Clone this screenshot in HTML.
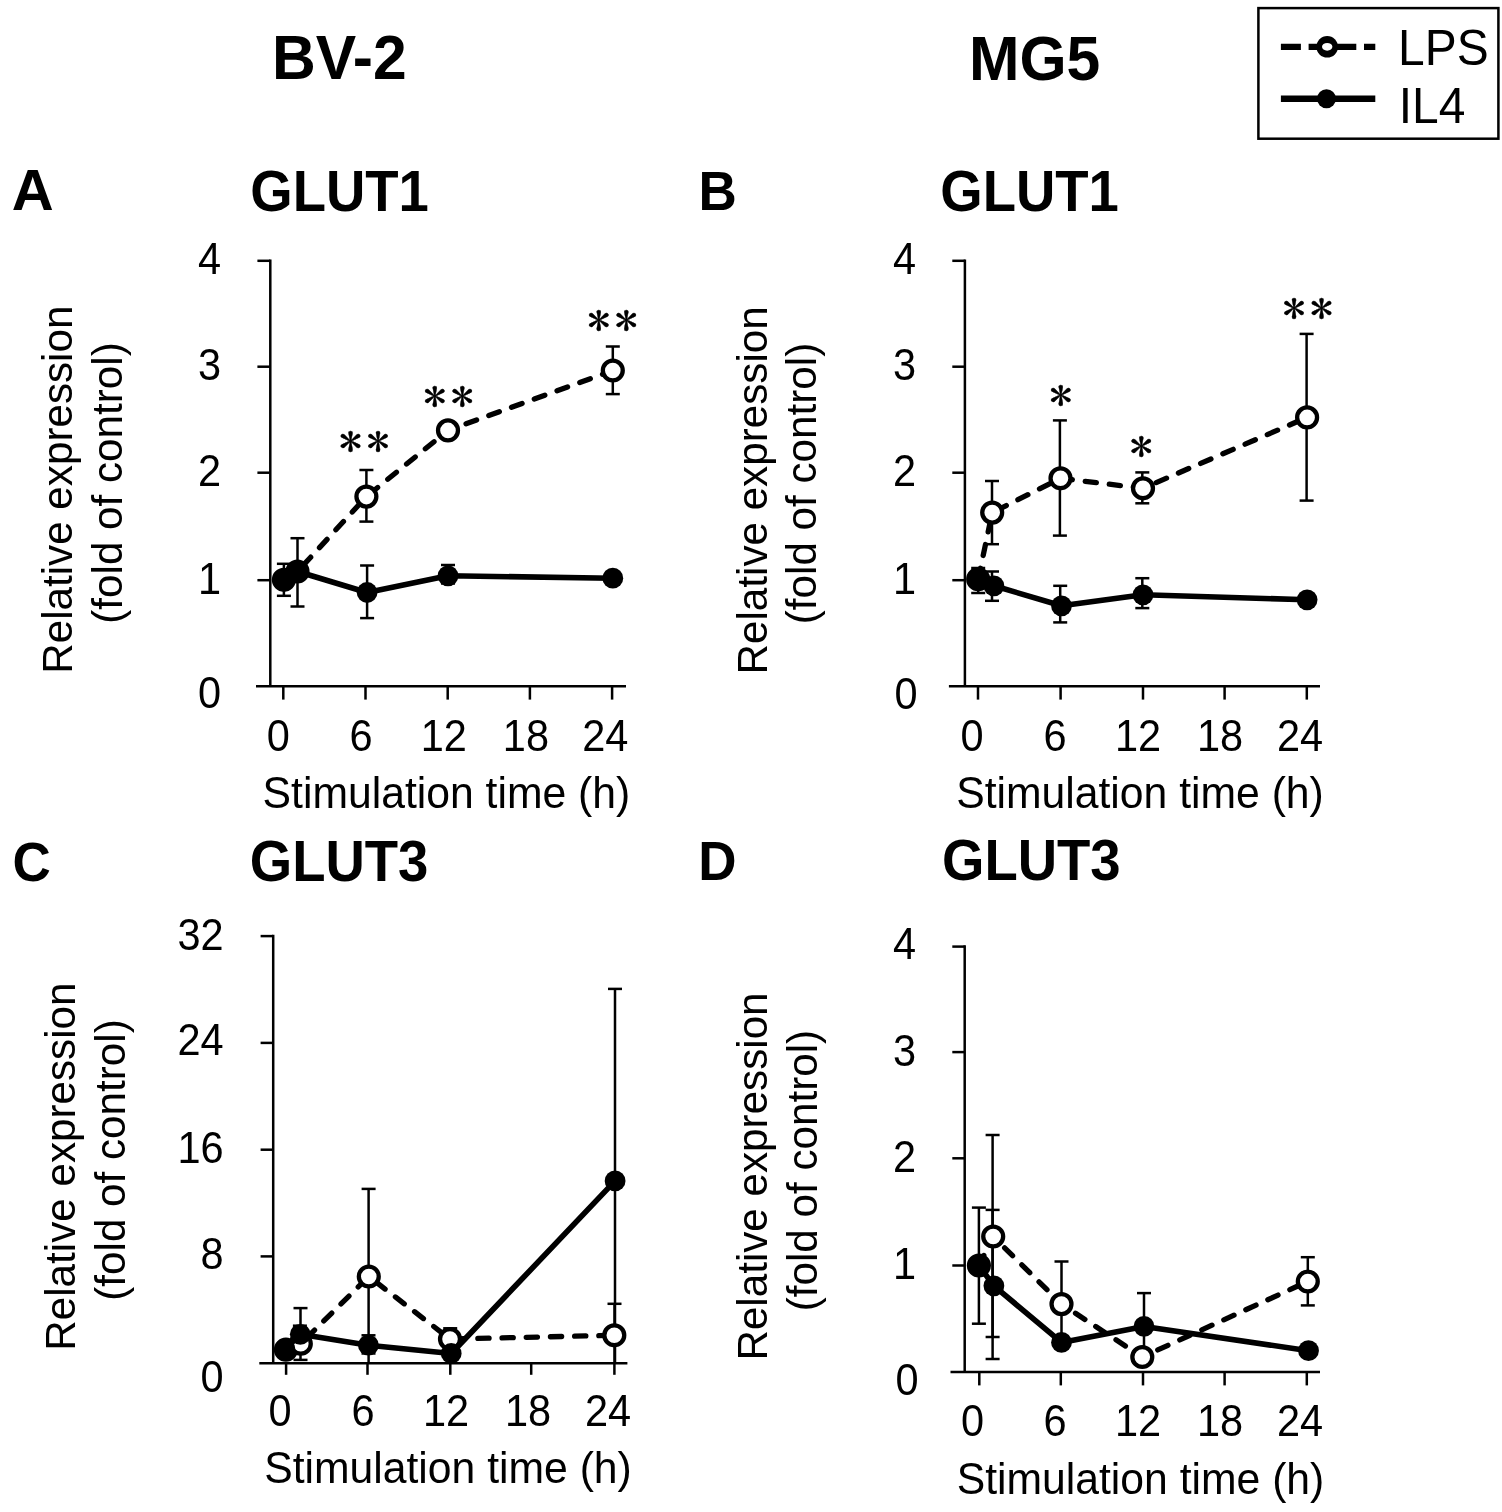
<!DOCTYPE html>
<html lang="en">
<head>
<meta charset="utf-8">
<title>GLUT1 and GLUT3 expression in BV-2 and MG5 cells</title>
<style>
html,body{margin:0;padding:0;background:#fff;}
body{width:1502px;height:1512px;overflow:hidden;}
svg{display:block;}
svg text{stroke:none;fill:#000;}
</style>
</head>
<body>
<svg width="1502" height="1512" viewBox="0 0 1502 1512" font-family='"Liberation Sans", sans-serif' fill="#000" stroke="#000">
<g class="headings">
<text transform="translate(271.9,79.4) scale(1.0,1.04)" font-size="60.6" font-weight="bold">BV-2</text>
<text transform="translate(969,79.6) scale(1.0,1.04)" font-size="60.6" font-weight="bold">MG5</text>
<text transform="translate(11.7,210) scale(1.085,1.06)" font-size="53.5" font-weight="bold">A</text>
<text transform="translate(698.4,210.1) scale(1.0,1.04)" font-size="53" font-weight="bold">B</text>
<text transform="translate(12.4,881.3) scale(1.0,1.04)" font-size="53" font-weight="bold">C</text>
<text transform="translate(698.3,880.4) scale(1.0,1.04)" font-size="53" font-weight="bold">D</text>
<text transform="translate(250.3,210.6) scale(1.0,1.04)" font-size="54.5" font-weight="bold">GLUT1</text>
<text transform="translate(940.3,210.6) scale(1.0,1.04)" font-size="54.5" font-weight="bold">GLUT1</text>
<text transform="translate(249.8,881.3) scale(1.0,1.04)" font-size="54.5" font-weight="bold">GLUT3</text>
<text transform="translate(942,880.4) scale(1.0,1.04)" font-size="54.5" font-weight="bold">GLUT3</text>
</g>
<g class="legend">
<rect x="1258.4" y="8.1" width="240" height="130.6" fill="#fff" stroke-width="2.5"/>
<line x1="1280.9" y1="46.8" x2="1375.3" y2="46.8" stroke-width="6.2" stroke-dasharray="20 7.7"/>
<circle cx="1327.2" cy="46.8" r="10.8" fill="#000" stroke="none"/>
<ellipse cx="1327.2" cy="46.8" rx="5.2" ry="3.9" fill="#fff" stroke="none"/>
<line x1="1280.9" y1="98.8" x2="1375.3" y2="98.8" stroke-width="6.6"/>
<circle cx="1326.5" cy="98.8" r="9.5" fill="#000" stroke="none"/>
<text transform="translate(1398.1,64.8) scale(1.0,1.04)" font-size="47.9">LPS</text>
<text transform="translate(1398.7,123) scale(1.0,1.04)" font-size="47.9">IL4</text>
</g>
<g class="panel" id="panel-A">
<g class="axes">
<line x1="270.3" y1="259.55" x2="270.3" y2="686.3" stroke-width="2.5"/>
<line x1="256" y1="686.3" x2="626" y2="686.3" stroke-width="2.5"/>
<line x1="257.4" y1="580.2" x2="270.3" y2="580.2" stroke-width="2.5"/>
<line x1="257.4" y1="472.7" x2="270.3" y2="472.7" stroke-width="2.5"/>
<line x1="257.4" y1="366.7" x2="270.3" y2="366.7" stroke-width="2.5"/>
<line x1="257.4" y1="260.8" x2="270.3" y2="260.8" stroke-width="2.5"/>
<line x1="283.3" y1="686.3" x2="283.3" y2="699.6" stroke-width="2.5"/>
<line x1="365.5" y1="686.3" x2="365.5" y2="699.6" stroke-width="2.5"/>
<line x1="447.7" y1="686.3" x2="447.7" y2="699.6" stroke-width="2.5"/>
<line x1="529.9" y1="686.3" x2="529.9" y2="699.6" stroke-width="2.5"/>
<line x1="612.1" y1="686.3" x2="612.1" y2="699.6" stroke-width="2.5"/>
</g>
<g class="ticklabels">
<text transform="translate(221,708) scale(1.0,1.05)" font-size="41.5" text-anchor="end">0</text>
<text transform="translate(221,593.7) scale(1.0,1.05)" font-size="41.5" text-anchor="end">1</text>
<text transform="translate(221,485.8) scale(1.0,1.05)" font-size="41.5" text-anchor="end">2</text>
<text transform="translate(221,380) scale(1.0,1.05)" font-size="41.5" text-anchor="end">3</text>
<text transform="translate(221,273.8) scale(1.0,1.05)" font-size="41.5" text-anchor="end">4</text>
<text transform="translate(278.2,750.8) scale(1.0,1.05)" font-size="41.5" text-anchor="middle">0</text>
<text transform="translate(361,750.8) scale(1.0,1.05)" font-size="41.5" text-anchor="middle">6</text>
<text transform="translate(443.8,750.8) scale(1.0,1.05)" font-size="41.5" text-anchor="middle">12</text>
<text transform="translate(525.9,750.8) scale(1.0,1.05)" font-size="41.5" text-anchor="middle">18</text>
<text transform="translate(605.3,750.8) scale(1.0,1.05)" font-size="41.5" text-anchor="middle">24</text>
</g>
<g class="axistitles">
<text transform="translate(446.4,808.3) scale(1.0,1.02)" font-size="42.7" text-anchor="middle">Stimulation time (h)</text>
<text transform="translate(72.1,489.7) rotate(-90)" font-size="42.2" text-anchor="middle">Relative expression</text>
<text transform="translate(122.1,483) rotate(-90)" font-size="42.2" text-anchor="middle">(fold of control)</text>
</g>
<g class="errorbars">
<line x1="283.9" y1="563.8" x2="283.9" y2="595.8" stroke-width="2.5"/>
<line x1="276.9" y1="563.8" x2="290.9" y2="563.8" stroke-width="2.5"/>
<line x1="276.9" y1="595.8" x2="290.9" y2="595.8" stroke-width="2.5"/>
<line x1="297.5" y1="538.2" x2="297.5" y2="606.5" stroke-width="2.5"/>
<line x1="290.5" y1="538.2" x2="304.5" y2="538.2" stroke-width="2.5"/>
<line x1="290.5" y1="606.5" x2="304.5" y2="606.5" stroke-width="2.5"/>
<line x1="366.4" y1="470" x2="366.4" y2="521.6" stroke-width="2.5"/>
<line x1="359.4" y1="470" x2="373.4" y2="470" stroke-width="2.5"/>
<line x1="359.4" y1="521.6" x2="373.4" y2="521.6" stroke-width="2.5"/>
<line x1="367.1" y1="565.5" x2="367.1" y2="618.1" stroke-width="2.5"/>
<line x1="360.1" y1="565.5" x2="374.1" y2="565.5" stroke-width="2.5"/>
<line x1="360.1" y1="618.1" x2="374.1" y2="618.1" stroke-width="2.5"/>
<line x1="448" y1="565" x2="448" y2="583.5" stroke-width="2.5"/>
<line x1="441" y1="565" x2="455" y2="565" stroke-width="2.5"/>
<line x1="441" y1="583.5" x2="455" y2="583.5" stroke-width="2.5"/>
<line x1="612.8" y1="346.5" x2="612.8" y2="394.1" stroke-width="2.5"/>
<line x1="605.8" y1="346.5" x2="619.8" y2="346.5" stroke-width="2.5"/>
<line x1="605.8" y1="394.1" x2="619.8" y2="394.1" stroke-width="2.5"/>
</g>
<g class="series lps">
<polyline points="283.9,579.8 297.5,571.5 366.4,496.6 448,430.4 612.8,370.5" fill="none" stroke-width="5.3" stroke-dasharray="11.2 13" stroke-linecap="round"/>
<circle cx="283.9" cy="579.8" r="9.95" fill="#fff" stroke-width="4.3"/>
<circle cx="297.5" cy="571.5" r="9.95" fill="#fff" stroke-width="4.3"/>
<circle cx="366.4" cy="496.6" r="9.95" fill="#fff" stroke-width="4.3"/>
<circle cx="448" cy="430.4" r="9.95" fill="#fff" stroke-width="4.3"/>
<circle cx="612.8" cy="370.5" r="9.95" fill="#fff" stroke-width="4.3"/>
</g>
<g class="series il4">
<polyline points="283.9,579.8 297.5,571.5 367.1,592.5 448,575.8 612.8,578.2" fill="none" stroke-width="5.6" stroke-linejoin="round"/>
<circle cx="283.9" cy="579.8" r="10.4" fill="#000" stroke="none"/>
<circle cx="297.5" cy="571.5" r="10.4" fill="#000" stroke="none"/>
<circle cx="367.1" cy="592.5" r="10.4" fill="#000" stroke="none"/>
<circle cx="448" cy="575.8" r="10.4" fill="#000" stroke="none"/>
<circle cx="612.8" cy="578.2" r="10.4" fill="#000" stroke="none"/>
</g>
<g class="stars">
<text transform="translate(339.05,456.97) scale(1.1,1)" font-size="42" letter-spacing="3.91" font-family='"IPAGothic", "Liberation Serif", serif' style="stroke:#000;stroke-width:0.35px">**</text>
<text transform="translate(423.25,411.57) scale(1.1,1)" font-size="42" letter-spacing="3.91" font-family='"IPAGothic", "Liberation Serif", serif' style="stroke:#000;stroke-width:0.35px">**</text>
<text transform="translate(587.35,335.97) scale(1.1,1)" font-size="42" letter-spacing="3.91" font-family='"IPAGothic", "Liberation Serif", serif' style="stroke:#000;stroke-width:0.35px">**</text>
</g>
</g>
<g class="panel" id="panel-B">
<g class="axes">
<line x1="964.9" y1="259.55" x2="964.9" y2="686.3" stroke-width="2.5"/>
<line x1="948.9" y1="686.3" x2="1320" y2="686.3" stroke-width="2.5"/>
<line x1="952.3" y1="580.2" x2="964.9" y2="580.2" stroke-width="2.5"/>
<line x1="952.3" y1="472.7" x2="964.9" y2="472.7" stroke-width="2.5"/>
<line x1="952.3" y1="366.7" x2="964.9" y2="366.7" stroke-width="2.5"/>
<line x1="952.3" y1="260.8" x2="964.9" y2="260.8" stroke-width="2.5"/>
<line x1="978" y1="686.3" x2="978" y2="699.6" stroke-width="2.5"/>
<line x1="1060.6" y1="686.3" x2="1060.6" y2="699.6" stroke-width="2.5"/>
<line x1="1143" y1="686.3" x2="1143" y2="699.6" stroke-width="2.5"/>
<line x1="1224.6" y1="686.3" x2="1224.6" y2="699.6" stroke-width="2.5"/>
<line x1="1306.8" y1="686.3" x2="1306.8" y2="699.6" stroke-width="2.5"/>
</g>
<g class="ticklabels">
<text transform="translate(917.5,708.5) scale(1.0,1.05)" font-size="41.5" text-anchor="end">0</text>
<text transform="translate(916,593.7) scale(1.0,1.05)" font-size="41.5" text-anchor="end">1</text>
<text transform="translate(916,485.8) scale(1.0,1.05)" font-size="41.5" text-anchor="end">2</text>
<text transform="translate(916,380) scale(1.0,1.05)" font-size="41.5" text-anchor="end">3</text>
<text transform="translate(916,273.8) scale(1.0,1.05)" font-size="41.5" text-anchor="end">4</text>
<text transform="translate(972,750.8) scale(1.0,1.05)" font-size="41.5" text-anchor="middle">0</text>
<text transform="translate(1055,750.8) scale(1.0,1.05)" font-size="41.5" text-anchor="middle">6</text>
<text transform="translate(1138,750.8) scale(1.0,1.05)" font-size="41.5" text-anchor="middle">12</text>
<text transform="translate(1220,750.8) scale(1.0,1.05)" font-size="41.5" text-anchor="middle">18</text>
<text transform="translate(1300,750.8) scale(1.0,1.05)" font-size="41.5" text-anchor="middle">24</text>
</g>
<g class="axistitles">
<text transform="translate(1140,808.3) scale(1.0,1.02)" font-size="42.7" text-anchor="middle">Stimulation time (h)</text>
<text transform="translate(766.7,490.4) rotate(-90)" font-size="42.2" text-anchor="middle">Relative expression</text>
<text transform="translate(816.3,483.5) rotate(-90)" font-size="42.2" text-anchor="middle">(fold of control)</text>
</g>
<g class="errorbars">
<line x1="992" y1="481" x2="992" y2="544.2" stroke-width="2.5"/>
<line x1="985" y1="481" x2="999" y2="481" stroke-width="2.5"/>
<line x1="985" y1="544.2" x2="999" y2="544.2" stroke-width="2.5"/>
<line x1="1059.9" y1="420.4" x2="1059.9" y2="535.6" stroke-width="2.5"/>
<line x1="1052.9" y1="420.4" x2="1066.9" y2="420.4" stroke-width="2.5"/>
<line x1="1052.9" y1="535.6" x2="1066.9" y2="535.6" stroke-width="2.5"/>
<line x1="1142.3" y1="472.4" x2="1142.3" y2="503.3" stroke-width="2.5"/>
<line x1="1135.3" y1="472.4" x2="1149.3" y2="472.4" stroke-width="2.5"/>
<line x1="1135.3" y1="503.3" x2="1149.3" y2="503.3" stroke-width="2.5"/>
<line x1="1306.6" y1="333.9" x2="1306.6" y2="500.6" stroke-width="2.5"/>
<line x1="1299.6" y1="333.9" x2="1313.6" y2="333.9" stroke-width="2.5"/>
<line x1="1299.6" y1="500.6" x2="1313.6" y2="500.6" stroke-width="2.5"/>
<line x1="978.2" y1="568" x2="978.2" y2="593" stroke-width="2.5"/>
<line x1="971.2" y1="568" x2="985.2" y2="568" stroke-width="2.5"/>
<line x1="971.2" y1="593" x2="985.2" y2="593" stroke-width="2.5"/>
<line x1="992" y1="571.5" x2="992" y2="600.8" stroke-width="2.5"/>
<line x1="985" y1="571.5" x2="999" y2="571.5" stroke-width="2.5"/>
<line x1="985" y1="600.8" x2="999" y2="600.8" stroke-width="2.5"/>
<line x1="1060.2" y1="585.8" x2="1060.2" y2="622.4" stroke-width="2.5"/>
<line x1="1053.2" y1="585.8" x2="1067.2" y2="585.8" stroke-width="2.5"/>
<line x1="1053.2" y1="622.4" x2="1067.2" y2="622.4" stroke-width="2.5"/>
<line x1="1142.3" y1="578.2" x2="1142.3" y2="608.1" stroke-width="2.5"/>
<line x1="1135.3" y1="578.2" x2="1149.3" y2="578.2" stroke-width="2.5"/>
<line x1="1135.3" y1="608.1" x2="1149.3" y2="608.1" stroke-width="2.5"/>
</g>
<g class="series lps">
<polyline points="978.2,579.2 992.2,512.6 1060.5,478.3 1143,488.3 1307.1,417.4" fill="none" stroke-width="5.3" stroke-dasharray="11.2 13" stroke-linecap="round"/>
<circle cx="978.2" cy="579.2" r="9.95" fill="#fff" stroke-width="4.3"/>
<circle cx="992.2" cy="512.6" r="9.95" fill="#fff" stroke-width="4.3"/>
<circle cx="1060.5" cy="478.3" r="9.95" fill="#fff" stroke-width="4.3"/>
<circle cx="1143" cy="488.3" r="9.95" fill="#fff" stroke-width="4.3"/>
<circle cx="1307.1" cy="417.4" r="9.95" fill="#fff" stroke-width="4.3"/>
</g>
<g class="series il4">
<polyline points="978.2,579.2 993.9,585.8 1061.5,605.8 1143,594.8 1307.1,599.8" fill="none" stroke-width="5.6" stroke-linejoin="round"/>
<circle cx="978.2" cy="579.2" r="10.4" fill="#000" stroke="none"/>
<circle cx="993.9" cy="585.8" r="10.4" fill="#000" stroke="none"/>
<circle cx="1061.5" cy="605.8" r="10.4" fill="#000" stroke="none"/>
<circle cx="1143" cy="594.8" r="10.4" fill="#000" stroke="none"/>
<circle cx="1307.1" cy="599.8" r="10.4" fill="#000" stroke="none"/>
</g>
<g class="stars">
<text transform="translate(1049.25,410.97) scale(1.1,1)" font-size="42" letter-spacing="3.91" font-family='"IPAGothic", "Liberation Serif", serif' style="stroke:#000;stroke-width:0.35px">*</text>
<text transform="translate(1129.75,461.87) scale(1.1,1)" font-size="42" letter-spacing="3.91" font-family='"IPAGothic", "Liberation Serif", serif' style="stroke:#000;stroke-width:0.35px">*</text>
<text transform="translate(1282.55,323.57) scale(1.1,1)" font-size="42" letter-spacing="3.91" font-family='"IPAGothic", "Liberation Serif", serif' style="stroke:#000;stroke-width:0.35px">**</text>
</g>
</g>
<g class="panel" id="panel-C">
<g class="axes">
<line x1="273.2" y1="934.85" x2="273.2" y2="1363.2" stroke-width="2.5"/>
<line x1="259.3" y1="1363.2" x2="627.4" y2="1363.2" stroke-width="2.5"/>
<line x1="260.6" y1="1256.4" x2="273.2" y2="1256.4" stroke-width="2.5"/>
<line x1="260.6" y1="1149.7" x2="273.2" y2="1149.7" stroke-width="2.5"/>
<line x1="260.6" y1="1042.9" x2="273.2" y2="1042.9" stroke-width="2.5"/>
<line x1="260.6" y1="936.1" x2="273.2" y2="936.1" stroke-width="2.5"/>
<line x1="286.1" y1="1363.2" x2="286.1" y2="1374.8" stroke-width="2.5"/>
<line x1="367.5" y1="1363.2" x2="367.5" y2="1374.8" stroke-width="2.5"/>
<line x1="450.3" y1="1363.2" x2="450.3" y2="1374.8" stroke-width="2.5"/>
<line x1="531.2" y1="1363.2" x2="531.2" y2="1374.8" stroke-width="2.5"/>
<line x1="614.4" y1="1363.2" x2="614.4" y2="1374.8" stroke-width="2.5"/>
</g>
<g class="ticklabels">
<text transform="translate(223.6,1392) scale(1.0,1.05)" font-size="41.5" text-anchor="end">0</text>
<text transform="translate(223.6,1269) scale(1.0,1.05)" font-size="41.5" text-anchor="end">8</text>
<text transform="translate(223.6,1163) scale(1.0,1.05)" font-size="41.5" text-anchor="end">16</text>
<text transform="translate(223.6,1055) scale(1.0,1.05)" font-size="41.5" text-anchor="end">24</text>
<text transform="translate(223.6,949.5) scale(1.0,1.05)" font-size="41.5" text-anchor="end">32</text>
<text transform="translate(280,1425.9) scale(1.0,1.05)" font-size="41.5" text-anchor="middle">0</text>
<text transform="translate(363,1425.9) scale(1.0,1.05)" font-size="41.5" text-anchor="middle">6</text>
<text transform="translate(446,1425.9) scale(1.0,1.05)" font-size="41.5" text-anchor="middle">12</text>
<text transform="translate(528,1425.9) scale(1.0,1.05)" font-size="41.5" text-anchor="middle">18</text>
<text transform="translate(608,1425.9) scale(1.0,1.05)" font-size="41.5" text-anchor="middle">24</text>
</g>
<g class="axistitles">
<text transform="translate(448,1483.3) scale(1.0,1.02)" font-size="42.7" text-anchor="middle">Stimulation time (h)</text>
<text transform="translate(74.9,1166.6) rotate(-90)" font-size="42.2" text-anchor="middle">Relative expression</text>
<text transform="translate(125.2,1160) rotate(-90)" font-size="42.2" text-anchor="middle">(fold of control)</text>
</g>
<g class="errorbars">
<line x1="368.6" y1="1188.9" x2="368.6" y2="1363" stroke-width="2.5"/>
<line x1="361.6" y1="1188.9" x2="375.6" y2="1188.9" stroke-width="2.5"/>
<line x1="300.5" y1="1308.1" x2="300.5" y2="1359.9" stroke-width="2.5"/>
<line x1="293.5" y1="1308.1" x2="307.5" y2="1308.1" stroke-width="2.5"/>
<line x1="293.5" y1="1359.9" x2="307.5" y2="1359.9" stroke-width="2.5"/>
<line x1="615" y1="988.9" x2="615" y2="1363" stroke-width="2.5"/>
<line x1="608" y1="988.9" x2="622" y2="988.9" stroke-width="2.5"/>
<line x1="614.5" y1="1303.8" x2="614.5" y2="1363" stroke-width="2.5"/>
<line x1="607.5" y1="1303.8" x2="621.5" y2="1303.8" stroke-width="2.5"/>
<line x1="450.2" y1="1328.3" x2="450.2" y2="1350" stroke-width="2.5"/>
<line x1="443.2" y1="1328.3" x2="457.2" y2="1328.3" stroke-width="2.5"/>
<line x1="443.2" y1="1350" x2="457.2" y2="1350" stroke-width="2.5"/>
<line x1="368.5" y1="1335.3" x2="368.5" y2="1353.5" stroke-width="2.5"/>
<line x1="361.5" y1="1335.3" x2="375.5" y2="1335.3" stroke-width="2.5"/>
<line x1="361.5" y1="1353.5" x2="375.5" y2="1353.5" stroke-width="2.5"/>
<line x1="299.9" y1="1325.7" x2="299.9" y2="1344" stroke-width="2.5"/>
<line x1="292.9" y1="1325.7" x2="306.9" y2="1325.7" stroke-width="2.5"/>
<line x1="292.9" y1="1344" x2="306.9" y2="1344" stroke-width="2.5"/>
</g>
<g class="series lps">
<polyline points="285.9,1349.7 300.8,1343.7 368.8,1276.5 450,1339 614.3,1335.3" fill="none" stroke-width="5.3" stroke-dasharray="11.2 13" stroke-linecap="round"/>
<circle cx="285.9" cy="1349.7" r="9.95" fill="#fff" stroke-width="4.3"/>
<circle cx="300.8" cy="1343.7" r="9.95" fill="#fff" stroke-width="4.3"/>
<circle cx="368.8" cy="1276.5" r="9.95" fill="#fff" stroke-width="4.3"/>
<circle cx="450" cy="1339" r="9.95" fill="#fff" stroke-width="4.3"/>
<circle cx="614.3" cy="1335.3" r="9.95" fill="#fff" stroke-width="4.3"/>
</g>
<g class="series il4">
<polyline points="285,1349.2 300.3,1334.3 368.4,1345.2 451.2,1353.5 615.1,1180.9" fill="none" stroke-width="5.6" stroke-linejoin="round"/>
<circle cx="285" cy="1349.2" r="10.4" fill="#000" stroke="none"/>
<circle cx="300.3" cy="1334.3" r="10.4" fill="#000" stroke="none"/>
<circle cx="368.4" cy="1345.2" r="10.4" fill="#000" stroke="none"/>
<circle cx="451.2" cy="1353.5" r="10.4" fill="#000" stroke="none"/>
<circle cx="615.1" cy="1180.9" r="10.4" fill="#000" stroke="none"/>
</g>
</g>
<g class="panel" id="panel-D">
<g class="axes">
<line x1="964.7" y1="945.35" x2="964.7" y2="1372.1" stroke-width="2.5"/>
<line x1="950.5" y1="1372.1" x2="1320" y2="1372.1" stroke-width="2.5"/>
<line x1="952.3" y1="1265.5" x2="964.7" y2="1265.5" stroke-width="2.5"/>
<line x1="952.3" y1="1158.3" x2="964.7" y2="1158.3" stroke-width="2.5"/>
<line x1="952.3" y1="1052.1" x2="964.7" y2="1052.1" stroke-width="2.5"/>
<line x1="952.3" y1="946.6" x2="964.7" y2="946.6" stroke-width="2.5"/>
<line x1="979.3" y1="1372.1" x2="979.3" y2="1385.4" stroke-width="2.5"/>
<line x1="1060.8" y1="1372.1" x2="1060.8" y2="1385.4" stroke-width="2.5"/>
<line x1="1143" y1="1372.1" x2="1143" y2="1385.4" stroke-width="2.5"/>
<line x1="1224.6" y1="1372.1" x2="1224.6" y2="1385.4" stroke-width="2.5"/>
<line x1="1306.8" y1="1372.1" x2="1306.8" y2="1385.4" stroke-width="2.5"/>
</g>
<g class="ticklabels">
<text transform="translate(918.6,1395) scale(1.0,1.05)" font-size="41.5" text-anchor="end">0</text>
<text transform="translate(916,1279) scale(1.0,1.05)" font-size="41.5" text-anchor="end">1</text>
<text transform="translate(916,1171.6) scale(1.0,1.05)" font-size="41.5" text-anchor="end">2</text>
<text transform="translate(916,1065.5) scale(1.0,1.05)" font-size="41.5" text-anchor="end">3</text>
<text transform="translate(916,959.3) scale(1.0,1.05)" font-size="41.5" text-anchor="end">4</text>
<text transform="translate(972.6,1435.6) scale(1.0,1.05)" font-size="41.5" text-anchor="middle">0</text>
<text transform="translate(1055,1435.6) scale(1.0,1.05)" font-size="41.5" text-anchor="middle">6</text>
<text transform="translate(1138,1435.6) scale(1.0,1.05)" font-size="41.5" text-anchor="middle">12</text>
<text transform="translate(1220,1435.6) scale(1.0,1.05)" font-size="41.5" text-anchor="middle">18</text>
<text transform="translate(1300,1435.6) scale(1.0,1.05)" font-size="41.5" text-anchor="middle">24</text>
</g>
<g class="axistitles">
<text transform="translate(1140.5,1493.7) scale(1.0,1.02)" font-size="42.7" text-anchor="middle">Stimulation time (h)</text>
<text transform="translate(766.7,1176.5) rotate(-90)" font-size="42.2" text-anchor="middle">Relative expression</text>
<text transform="translate(817,1170.6) rotate(-90)" font-size="42.2" text-anchor="middle">(fold of control)</text>
</g>
<g class="errorbars">
<line x1="978.9" y1="1207.6" x2="978.9" y2="1323.7" stroke-width="2.5"/>
<line x1="971.9" y1="1207.6" x2="985.9" y2="1207.6" stroke-width="2.5"/>
<line x1="971.9" y1="1323.7" x2="985.9" y2="1323.7" stroke-width="2.5"/>
<line x1="992.6" y1="1135" x2="992.6" y2="1359" stroke-width="2.5"/>
<line x1="985.6" y1="1135" x2="999.6" y2="1135" stroke-width="2.5"/>
<line x1="985.6" y1="1359" x2="999.6" y2="1359" stroke-width="2.5"/>
<line x1="992.6" y1="1209.9" x2="992.6" y2="1337" stroke-width="2.5"/>
<line x1="985.6" y1="1209.9" x2="999.6" y2="1209.9" stroke-width="2.5"/>
<line x1="985.6" y1="1337" x2="999.6" y2="1337" stroke-width="2.5"/>
<line x1="1061.5" y1="1261.5" x2="1061.5" y2="1346.7" stroke-width="2.5"/>
<line x1="1054.5" y1="1261.5" x2="1068.5" y2="1261.5" stroke-width="2.5"/>
<line x1="1054.5" y1="1346.7" x2="1068.5" y2="1346.7" stroke-width="2.5"/>
<line x1="1144" y1="1293.1" x2="1144" y2="1359.7" stroke-width="2.5"/>
<line x1="1137" y1="1293.1" x2="1151" y2="1293.1" stroke-width="2.5"/>
<line x1="1137" y1="1359.7" x2="1151" y2="1359.7" stroke-width="2.5"/>
<line x1="1307.8" y1="1257.2" x2="1307.8" y2="1305.4" stroke-width="2.5"/>
<line x1="1300.8" y1="1257.2" x2="1314.8" y2="1257.2" stroke-width="2.5"/>
<line x1="1300.8" y1="1305.4" x2="1314.8" y2="1305.4" stroke-width="2.5"/>
</g>
<g class="series lps">
<polyline points="978.9,1265.5 993.2,1236.5 1061.5,1304.1 1142.3,1357 1307.8,1281.5" fill="none" stroke-width="5.3" stroke-dasharray="11.2 13" stroke-linecap="round"/>
<circle cx="978.9" cy="1265.5" r="9.95" fill="#fff" stroke-width="4.3"/>
<circle cx="993.2" cy="1236.5" r="9.95" fill="#fff" stroke-width="4.3"/>
<circle cx="1061.5" cy="1304.1" r="9.95" fill="#fff" stroke-width="4.3"/>
<circle cx="1142.3" cy="1357" r="9.95" fill="#fff" stroke-width="4.3"/>
<circle cx="1307.8" cy="1281.5" r="9.95" fill="#fff" stroke-width="4.3"/>
</g>
<g class="series il4">
<polyline points="978.9,1265.5 993.9,1285.8 1061.5,1342.4 1144,1326.4 1308.5,1350.7" fill="none" stroke-width="5.6" stroke-linejoin="round"/>
<circle cx="978.9" cy="1265.5" r="10.4" fill="#000" stroke="none"/>
<circle cx="993.9" cy="1285.8" r="10.4" fill="#000" stroke="none"/>
<circle cx="1061.5" cy="1342.4" r="10.4" fill="#000" stroke="none"/>
<circle cx="1144" cy="1326.4" r="10.4" fill="#000" stroke="none"/>
<circle cx="1308.5" cy="1350.7" r="10.4" fill="#000" stroke="none"/>
</g>
</g>
</svg>
</body>
</html>
